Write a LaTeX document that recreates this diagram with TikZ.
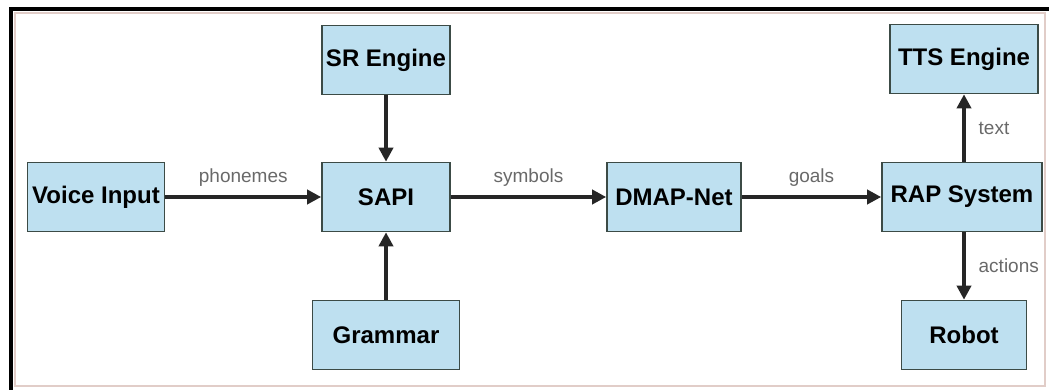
\documentclass[tikz,border=0pt]{standalone}
\usepackage{fontspec}
\setmainfont{Liberation Sans}
\usepackage{xcolor}
\usetikzlibrary{arrows.meta, positioning, calc}
\definecolor{boxblue}{RGB}{190,224,240}
\definecolor{boxedge}{RGB}{60,75,70}
\definecolor{labelgray}{RGB}{105,105,105}
\definecolor{framepink}{RGB}{225,205,200}
\tikzset{
    module/.style={draw=boxedge, fill=boxblue, line width=0.8pt, minimum height=34.5pt,
        inner sep=1pt, font=\fontsize{12}{14}\selectfont\bfseries},
    flow/.style={line width=2pt, -{Triangle[length=7pt, width=7pt]}, black!85},
    flowlabel/.style={font=\fontsize{9.5}{11}\selectfont, text=labelgray}
}

\begin{document}
\begin{tikzpicture}[x=0.5pt, y=-0.5pt]
    \useasboundingbox (0,0) rectangle (1049,390);
    % Frame
    \draw[framepink, line width=0.6pt] (15,13) rectangle (1045,386);
    \draw[black, line width=1.6pt] (11,390) -- (11,9) -- (1049,9);

    % Modules
    \node[module, minimum width=68.5pt] (voice) at (96,197) {Voice Input};
    \node[module, minimum width=64pt] (sr) at (386,60) {SR Engine};
    \node[module, minimum width=64pt] (sapi) at (386,197) {SAPI};
    \node[module, minimum width=73.5pt] (grammar) at (386,335) {Grammar};
    \node[module, minimum width=67pt] (dmap) at (674,197) {DMAP-Net};
    \node[module, minimum width=80pt] (rap) at (962,197) {RAP System};
    \node[module, minimum width=74pt] (tts) at (964,59) {TTS Engine};
    \node[module, minimum width=62.5pt] (robot) at (964,335) {Robot};

    % Connectors
    \draw[flow] (voice) -- node[flowlabel, above=1pt] {phonemes} (sapi);
    \draw[flow] (sr) -- (sapi);
    \draw[flow] (grammar) -- (sapi);
    \draw[flow] (sapi) -- node[flowlabel, above=1pt] {symbols} (dmap);
    \draw[flow] (dmap) -- node[flowlabel, above=1pt] {goals} (rap);
    \draw[flow] (rap.north -| tts) -- node[flowlabel, right=3pt] {text} (tts);
    \draw[flow] (rap.south -| robot) -- node[flowlabel, right=3pt] {actions} (robot);
\end{tikzpicture}
\end{document}
